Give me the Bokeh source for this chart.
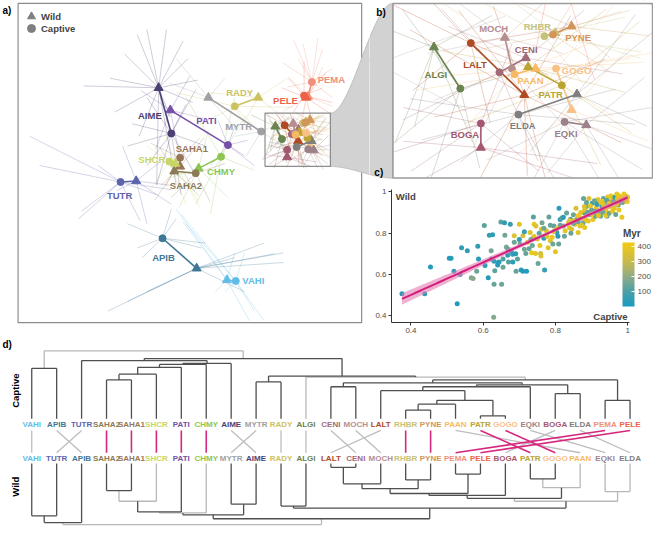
import numpy as np
from bokeh.plotting import figure
from bokeh.models import (ColumnDataSource, Range1d, Legend, LegendItem, ColorBar,
                          LinearColorMapper, FixedTicker, Label, CustomJSTickFormatter)
from bokeh.layouts import row, column
from bokeh.transform import transform
from bokeh.core.properties import value
from bokeh.embed import file_html
from bokeh.resources import INLINE

FONT = "Liberation Sans"

# ---------------- data ----------------
SPECIES = ["VAHI", "APIB", "TUTR", "SAHA2", "SAHA1", "SHCR", "PATI", "CHMY", "AIME", "MYTR",
           "RADY", "ALGI", "CENI", "MOCH", "LALT", "RHBR", "PYNE", "PAAN", "PATR", "GOGO",
           "EQKI", "BOGA", "ELDA", "PEMA", "PELE"]
COLORS = ["#62BDE6", "#3E7896", "#5E63AE", "#8A7B55", "#977656", "#C8D665", "#7450A8", "#8CC653",
          "#4D3F73", "#A0A0A4", "#CDC262", "#6A8450", "#A16A78", "#B58E8E", "#B04A22", "#C4C27A",
          "#D39558", "#F7BA62", "#B9A434", "#F8C185", "#9C8189", "#A3586F", "#7E7E7E", "#EF907A",
          "#EC634A"]
# ordination centroids (Dim1, Dim2 in plot units)
CAP_X = [241, 166, 123, 200, 184, 173, 233, 226, 175, 267, 240, 288.4, 298.5, 301.7, 291.1,
         310.1, 312.3, 302.4, 314.6, 313.1, 315.3, 293.7, 303.4, 319, 311]
CAP_Y = [289, 245, 187, 178, 162, 166, 149, 161, 137, 135, 109, 142.8, 137.7, 136.5, 128.5,
         126.3, 125.8, 138.3, 141.8, 136.5, 153.3, 153.8, 151.0, 84, 98]
WILD_X = [232, 201, 139, 178, 184, 179, 174, 203, 162, 213, 264, 281.6, 305.3, 299.9, 304.9,
          312.9, 317.1, 307.8, 305.9, 317.1, 320.9, 293.7, 318.5, 315, 313]
WILD_Y = [288, 276, 186, 176, 171, 168, 113, 173, 90, 100, 100, 129.8, 133.2, 126.8, 144.8,
          125.3, 123.2, 136.5, 136.0, 149.5, 154.3, 161.4, 144.6, 99, 100]

LAB_A_NAMES = ["VAHI", "APIB", "TUTR", "SAHA2", "SAHA1", "SHCR", "PATI", "CHMY", "AIME", "MYTR",
               "RADY", "PEMA", "PELE"]
LAB_A_X = [259, 167, 122, 190, 196, 155, 211, 226, 153, 244, 245, 339, 292]
LAB_A_Y = [289, 265, 201, 191, 153, 164, 124, 176, 118, 130, 95, 81, 103]

LAB_B_NAMES = ["ALGI", "LALT", "MOCH", "CENI", "RHBR", "PYNE", "PAAN", "PATR", "GOGO", "EQKI",
               "ELDA", "BOGA"]
LAB_B_X = [282.1, 292.2, 297.0, 305.4, 308.3, 318.8, 306.5, 311.7, 318.4, 315.7, 304.5, 289.6]
LAB_B_Y = [138.5, 135.2, 124.0, 130.4, 123.2, 126.8, 140.4, 144.6, 137.0, 156.9, 154.3, 157.3]

# individual samples (offsets from their centroid)
SPOKES_C = {
    "AIME": [(-25, -37), (25, -45), (-15, 53), (25, 43), (-45, 13), (10, 63), (35, 13), (-25, 33), (-40, -10), (15, -30)],
    "PATI": [(17, 11), (7, -19), (27, 21), (-18, 21), (20, -5), (-10, -25)],
    "TUTR": [(-93, -47), (-83, -17), (-43, 38), (37, 13), (52, 8), (-23, -17), (-40, 30), (20, 40)],
    "APIB": [(-36, -15), (-26, 10), (14, -20), (9, -30), (44, 5), (-21, 20), (40, 10)],
    "VAHI": [(-56, -69), (-51, -59), (29, 41), (19, 31), (9, -29), (-11, 11)],
    "SAHA1": [(-15, 30), (20, -20), (-30, -15)],
    "SAHA2": [(15, 30), (-25, 25), (30, -10)],
    "SHCR": [(17, 44), (-23, -16), (30, 40), (-20, 30)],
    "CHMY": [(14, -61), (-36, -61), (-26, 49), (-11, 59), (34, 14), (24, -41)],
    "MYTR": [(-27, 5), (23, 15), (33, -15), (-15, 25)],
    "RADY": [(-60, -14), (60, 1), (15, 26), (-40, 21), (30, 31)],
    "PEMA": [(-19, -44), (-9, -39), (11, -34), (21, -14), (-14, -24), (21, 16), (-25, 5), (6, -45), (-30, -20)],
    "PELE": [(-16, -18), (19, -8), (29, 7), (-11, 17), (0, -35)],
    "ALGI": [(-8, 30), (-20, 20), (15, -5), (-15, -25), (5, 25)],
    "LALT": [(-20, -12), (-10, -13), (25, -5), (-15, 15), (5, 25), (20, 10)],
    "MOCH": [(-20, 10), (15, 20), (-10, 25)],
    "CENI": [(-25, 15), (-15, -20), (10, 28)],
    "RHBR": [(20, -8), (-15, -10), (10, 15), (25, 5)],
    "PYNE": [(-20, 5), (15, 12), (5, -10)],
    "PAAN": [(-25, 5), (20, -10), (30, -5), (-15, 20)],
    "PATR": [(20, -20), (18, 15), (-25, 12), (10, 25)],
    "GOGO": [(25, -5), (15, -20), (-10, 20)],
    "EQKI": [(-20, 12), (25, -5), (10, 20), (-8, 18), (20, 15)],
    "BOGA": [(-20, -5), (8, -25), (-18, 15), (15, 15), (-25, 10)],
    "ELDA": [(-25, 8), (25, -8), (-15, 15), (10, 22), (-28, -5), (30, 3)],
}
SPOKES_W = {
    "AIME": [(-22, -55), (-12, -60), (8, -60), (25, -48), (-35, -35), (30, -30), (-77, -2), (40, -8), (-45, 25), (-20, 50), (-2, 100), (18, 100), (12, 30), (-50, -10), (35, 15)],
    "PATI": [(-30, -20), (20, -35), (40, 10), (-15, 40), (10, 50)],
    "TUTR": [(-14, -36), (36, 24), (11, 44), (-20, 10), (25, -20), (40, 5)],
    "APIB": [(89, -16), (69, -26), (-91, 44), (-71, 34), (39, -11), (49, 24), (89, -6), (-51, 24), (80, -15)],
    "VAHI": [(-52, -73), (23, 42), (8, -28), (-12, 12), (-45, -60)],
    "SAHA1": [(15, 25), (-20, 20), (25, -30)],
    "SAHA2": [(-20, 30), (25, 25), (-15, -25)],
    "SHCR": [(25, 45), (-10, -30)],
    "CHMY": [(-20, 40), (30, 30), (10, -40), (-30, 10)],
    "MYTR": [(-33, -40), (27, 30), (17, -20), (-40, -15)],
    "RADY": [(-50, -5), (30, -20), (25, 20), (-20, 35)],
    "PEMA": [(-20, -20), (25, 10), (15, -30), (-25, 15)],
    "PELE": [(-25, -10), (20, -25), (30, 20), (-5, 30), (10, 40)],
    "ALGI": [(-25, -12), (-5, 25), (10, 30), (15, -10), (-10, 30)],
    "LALT": [(-29.5, -20.5), (-16.9, -26.6), (0.8, 25.4), (5.8, 28.1), (-11.8, 27.2), (20.9, -11.3), (-23.2, 7), (12, -25), (-8, -28), (25, 15)],
    "MOCH": [(-12, -11), (10, -11), (15, 5), (-20, 5)],
    "CENI": [(15, -15), (25, 5), (-20, -10)],
    "RHBR": [(18, -5), (-10, -9), (22, 8)],
    "PYNE": [(15, -5), (10, 10), (-15, -8), (20, 3)],
    "PAAN": [(28, -2), (-30, 3), (20, 15)],
    "PATR": [(20, -18), (-22, -5), (25, 8)],
    "GOGO": [(15, -20), (-15, 15), (20, 10)],
    "EQKI": [(15, -15), (18, 8), (-10, 15), (10, 20)],
    "BOGA": [(-20, -2), (25, 10), (-15, 10), (30, 5)],
    "ELDA": [(20, -20), (15, -25), (-12, 18), (18, 10)],
}

# panel c: similarity captive vs wild, coloured by divergence time (Myr)
C_X = [0.375, 0.438, 0.454, 0.506, 0.511, 0.519, 0.528, 0.536, 0.540, 0.556,
       0.567, 0.572, 0.585, 0.582, 0.603, 0.617, 0.626, 0.614, 0.622, 0.623,
       0.630, 0.629, 0.630, 0.632, 0.640, 0.644, 0.649, 0.651, 0.655, 0.659,
       0.664, 0.668, 0.670, 0.675, 0.678, 0.682, 0.686, 0.686, 0.691, 0.695,
       0.700, 0.702, 0.705, 0.710, 0.720, 0.710, 0.714, 0.718, 0.723, 0.727,
       0.730, 0.734, 0.736, 0.739, 0.741, 0.746, 0.745, 0.750, 0.752, 0.757,
       0.759, 0.761, 0.763, 0.768, 0.770, 0.775, 0.782, 0.786, 0.791, 0.793,
       0.796, 0.800, 0.804, 0.809, 0.810, 0.813, 0.818, 0.822, 0.827, 0.831,
       0.836, 0.839, 0.842, 0.845, 0.850, 0.854, 0.857, 0.859, 0.863, 0.868,
       0.872, 0.877, 0.878, 0.881, 0.884, 0.886, 0.891, 0.893, 0.895, 0.900,
       0.902, 0.904, 0.907, 0.911, 0.913, 0.918, 0.920, 0.922, 0.925, 0.929,
       0.933, 0.935, 0.938, 0.940, 0.943, 0.945, 0.947, 0.951, 0.954, 0.956,
       0.958, 0.963, 0.965, 0.967, 0.972, 0.974, 0.977, 0.981, 0.984, 0.988,
       0.990, 0.995, 0.997, 1.000, 0.807, 0.825, 0.843, 0.863, 0.930, 0.915,
       0.870, 0.850, 0.880, 0.990, 0.970, 0.660, 0.690, 0.740, 0.780, 0.760,
       0.886, 0.897, 0.908, 0.916, 0.926, 0.933, 0.942, 0.949, 0.961, 0.970,
       0.979, 0.985, 0.992, 0.999, 0.881, 0.890, 0.901, 0.910, 0.919, 0.931,
       0.940, 0.949, 0.958, 0.967, 0.976, 0.863, 0.872, 0.881, 0.850, 0.839,
       0.822, 0.813, 0.804, 0.795, 0.786, 0.777, 0.768, 0.755, 0.741, 0.732,
       0.642, 0.655, 0.669, 0.682, 0.605, 0.587, 0.700, 0.714]
C_Y = [0.507, 0.507, 0.636, 0.678, 0.678, 0.615, 0.458, 0.600, 0.730, 0.715,
       0.584, 0.580, 0.737, 0.615, 0.838, 0.790, 0.792, 0.584, 0.715, 0.675,
       0.664, 0.392, 0.553, 0.618, 0.646, 0.661, 0.854, 0.553, 0.675, 0.851,
       0.733, 0.693, 0.661, 0.843, 0.710, 0.661, 0.788, 0.756, 0.615, 0.675,
       0.843, 0.748, 0.622, 0.615, 0.615, 0.788, 0.807, 0.702, 0.756, 0.725,
       0.804, 0.705, 0.740, 0.879, 0.843, 0.835, 0.702, 0.772, 0.653, 0.740,
       0.702, 0.819, 0.851, 0.775, 0.622, 0.812, 0.879, 0.764, 0.780, 0.748,
       0.835, 0.710, 0.804, 0.748, 0.921, 0.866, 0.874, 0.835, 0.812, 0.898,
       0.851, 0.827, 0.868, 0.819, 0.890, 0.843, 0.921, 0.866, 0.885, 0.835,
       0.874, 0.851, 0.968, 0.898, 0.866, 0.929, 0.859, 0.968, 0.890, 0.913,
       0.945, 0.866, 0.898, 0.882, 0.921, 0.963, 0.905, 0.945, 0.882, 0.929,
       0.968, 0.898, 0.945, 0.913, 0.882, 0.976, 0.953, 0.929, 0.980, 0.945,
       0.963, 0.921, 0.976, 0.953, 0.968, 0.937, 0.980, 0.960, 0.877, 0.973,
       0.953, 0.980, 0.963, 0.976, 0.785, 0.785, 0.800, 0.804, 0.955, 0.940,
       0.900, 0.860, 0.930, 0.990, 0.990, 0.790, 0.700, 0.780, 0.730, 0.690,
       0.949, 0.933, 0.957, 0.941, 0.949, 0.938, 0.960, 0.944, 0.954, 0.941,
       0.965, 0.949, 0.965, 0.954, 0.913, 0.902, 0.891, 0.907, 0.886, 0.902,
       0.886, 0.897, 0.907, 0.891, 0.913, 0.855, 0.839, 0.828, 0.847, 0.860,
       0.878, 0.839, 0.824, 0.808, 0.839, 0.784, 0.824, 0.800, 0.784, 0.769,
       0.659, 0.635, 0.722, 0.698, 0.643, 0.675, 0.769, 0.722]
C_MYR = [22, 30, 18, 35, 28, 40, 15, 95, 45, 38,
         170, 190, 42, 150, 120, 55, 48, 25, 160, 30,
         52, 180, 140, 130, 20, 60, 125, 145, 110, 50,
         175, 35, 115, 58, 44, 40, 360, 150, 135, 120,
         380, 165, 30, 25, 18, 340, 60, 140, 390, 130,
         370, 400, 155, 120, 395, 360, 380, 350, 145, 405,
         330, 385, 160, 40, 55, 375, 135, 365, 395, 150,
         125, 380, 45, 140, 30, 50, 130, 170, 390, 145,
         370, 400, 120, 355, 150, 385, 345, 135, 410, 375,
         395, 160, 140, 125, 380, 155, 400, 365, 130, 145,
         50, 390, 165, 140, 405, 385, 120, 375, 150, 45,
         135, 395, 160, 410, 140, 390, 125, 380, 400, 150,
         370, 395, 40, 385, 405, 145, 390, 375, 400, 410,
         380, 395, 405, 390, 35, 150, 140, 380, 395, 150,
         385, 370, 360, 400, 395, 160, 30, 150, 375, 365,
         140, 385, 150, 45, 390, 380, 135, 395, 145, 400,
         385, 150, 395, 405, 375, 140, 390, 130, 380, 145,
         400, 150, 385, 140, 395, 135, 380, 390, 150, 370,
         40, 145, 385, 390, 140, 375, 150, 135, 380, 145,
         35, 150, 140, 40, 30, 25, 45, 160]

# panel d: dendrograms, nodes are (left, right, height[, drawn light])
CAPTIVE_TREE = (("VAHI", "APIB", 52),
                (("TUTR", ((((("SAHA2", "SAHA1", 40), "SHCR", 46), "PATI", 53), "CHMY", 56), "AIME", 57), 60),
                 (("MYTR", "RADY", 38),
                  ("ALGI",
                   ((("CENI", "MOCH", 33),
                     ((("LALT", ((("RHBR", "PYNE", 9), "PAAN", 15), ("PATR", "GOGO", 3), 19), 29), "EQKI", 33),
                      ("BOGA", "ELDA", 26), 35), 37),
                    ("PEMA", "PELE", 19), 40), 43, True), 44), 62),
                70, True)
W_SMALL = (((("LALT", "CENI", 4), "MOCH", 21), ("RHBR", "PYNE", 17), 26), ("PEMA", "PELE", 11), 31)
W_RIGHT = (((W_SMALL, "BOGA", 33), (("PATR", "GOGO", 16), "PAAN", 25, True), 36),
           ("EQKI", "ELDA", 29, True), 39, True)
W_LEFT = ((((("SAHA2", "SAHA1", 28), "SHCR", 39, True), "PATI", 50), "CHMY", 51, True),
          ("MYTR", "AIME", 42), 53)
WILD_TREE = ((("VAHI", "TUTR", 54), "APIB", 61),
             (W_LEFT, (("RADY", "ALGI", 44), W_RIGHT, 46), 57),
             63, True)
LINK_HIGHLIGHT = ["SAHA2", "SAHA1", "SHCR", "PATI", "CHMY", "RHBR", "PYNE", "PEMA", "PELE", "PATR", "GOGO"]

# ---------------- layout constants ----------------
SX = 653 / 669
SY = 526 / 542
WA, HTOP, WR, HB, HC, HD = 369, 338, 284, 180, 158, 188
ZB = (271, 338, 116, 171)          # zoom window in panel a units
BREF = (402, 668, 3, 183)          # panel b box on the sheet
ABOX = (18, 370, 3, 332)


def ref_to_b(xr, yr):
    xr = np.asarray(xr, dtype=float)
    yr = np.asarray(yr, dtype=float)
    ax = ZB[0] + (xr - BREF[0]) * (ZB[1] - ZB[0]) / (BREF[1] - BREF[0])
    ay = ZB[2] + (yr - BREF[2]) * (ZB[3] - ZB[2]) / (BREF[3] - BREF[2])
    return ax, ay


def base_fig(w, h, xr, yr, **kw):
    p = figure(width=w, height=h, x_range=xr, y_range=yr, output_backend="svg",
               toolbar_location=None, x_axis_location=None, y_axis_location=None,
               outline_line_color=None, min_border_left=0, min_border_right=0,
               min_border_top=0, min_border_bottom=0, **kw)
    p.grid.visible = False
    return p


col_of = dict(zip(SPECIES, COLORS))

# spokes source
sx0, sy0, sx1, sy1, scol = [], [], [], [], []
for i, sp in enumerate(SPECIES):
    for (dx, dy) in SPOKES_C.get(sp, []):
        sx0.append(CAP_X[i]); sy0.append(CAP_Y[i]); sx1.append(CAP_X[i] + dx); sy1.append(CAP_Y[i] + dy); scol.append(COLORS[i])
    for (dx, dy) in SPOKES_W.get(sp, []):
        sx0.append(WILD_X[i]); sy0.append(WILD_Y[i]); sx1.append(WILD_X[i] + dx); sy1.append(WILD_Y[i] + dy); scol.append(COLORS[i])
spoke_src = ColumnDataSource(dict(x0=sx0, y0=sy0, x1=sx1, y1=sy1, c=scol))
cent_src = ColumnDataSource(dict(cx=CAP_X, cy=CAP_Y, wx=WILD_X, wy=WILD_Y, c=COLORS, sp=SPECIES))

# funnel shape (sheet coordinates)
t = np.linspace(0, 1, 80)
s = t * t * (3 - 2 * t)
fx = ZB[1] + (BREF[0] - ZB[1]) * t
ftop = ZB[2] + (BREF[2] - ZB[2]) * s
fbot = ZB[3] + (BREF[3] - ZB[3]) * s
FUN_X = np.concatenate([fx, fx[::-1]])
FUN_Y = np.concatenate([ftop, fbot[::-1]])


def draw_ordination(p, msize):
    p.segment("x0", "y0", "x1", "y1", source=spoke_src, line_color="c", line_alpha=0.3, line_width=0.9)
    p.segment("cx", "cy", "wx", "wy", source=cent_src, line_color="c", line_width=1.6)
    p.scatter("wx", "wy", source=cent_src, marker="triangle", size=msize + 2, fill_color="c", line_color="c")
    p.scatter("cx", "cy", source=cent_src, marker="circle", size=msize, fill_color="c", line_color="c")


# ---------------- panel a ----------------
xa1 = WA / SX
ya1 = HTOP / SY
pa = base_fig(WA, HTOP, Range1d(0, xa1), Range1d(ya1, 0))
draw_ordination(pa, 7)
pa.quad(left=[0, 0, 0, ABOX[1]], right=[ABOX[0], xa1, xa1, xa1],
        top=[0, 0, ABOX[3], 0], bottom=[ya1, ABOX[2], ya1, ya1],
        fill_color="white", line_color=None)
lab_a = ColumnDataSource(dict(x=LAB_A_X, y=LAB_A_Y, t=LAB_A_NAMES, c=[col_of[n] for n in LAB_A_NAMES]))
pa.text("x", "y", "t", source=lab_a, text_color="c", text_font=value(FONT), text_font_style="bold",
        text_font_size="9.5px", text_align="center", text_baseline="middle")
pa.quad(left=[ABOX[0]], right=[ABOX[1]], top=[ABOX[2]], bottom=[ABOX[3]],
        fill_color=None, line_color="#8C8C8C", line_width=1.2)
pa.patch(FUN_X, FUN_Y, fill_color="#D2D2D2", line_color="#BDBDBD", line_width=1)
pa.quad(left=[ZB[0]], right=[ZB[1]], top=[ZB[2]], bottom=[ZB[3]],
        fill_color=None, line_color="#8C8C8C", line_width=1.2)
pa.text([2], [10], ["a)"], text_font=value(FONT), text_font_style="bold", text_font_size="10px",
        text_baseline="middle", text_color="black")
# legend (hidden carrier glyphs, grey keys)
r_w = pa.scatter(x=WILD_X[:1], y=WILD_Y[:1], marker="triangle", size=9, color="#7F7F7F", visible=False)
r_c = pa.scatter(x=CAP_X[:1], y=CAP_Y[:1], marker="circle", size=7, color="#7F7F7F", visible=False)
for item, loc in ((LegendItem(label="Wild", renderers=[r_w]), (21, 312)),
                  (LegendItem(label="Captive", renderers=[r_c]), (21, 300))):
    pa.add_layout(Legend(items=[item], location=loc, label_text_font=FONT, label_text_font_style="bold",
                         label_text_font_size="9.5px", glyph_width=20, glyph_height=20, label_height=20,
                         spacing=0, padding=0, margin=0, background_fill_alpha=0, border_line_alpha=0,
                         label_standoff=0, inactive_fill_alpha=0))

# ---------------- panel b ----------------
bx0, _ = ref_to_b(xa1, 0)
bx1, _ = ref_to_b(653 / SX, 0)
_, by0 = ref_to_b(0, 0)
_, by1 = ref_to_b(0, HB / SY)
bx0, bx1, by0, by1 = float(bx0), float(bx1), float(by0), float(by1)
pb = base_fig(WR, HB, Range1d(bx0, bx1), Range1d(by1, by0))
draw_ordination(pb, 7)
lab_b = ColumnDataSource(dict(x=LAB_B_X, y=LAB_B_Y, t=LAB_B_NAMES, c=[col_of[n] for n in LAB_B_NAMES]))
pb.text("x", "y", "t", source=lab_b, text_color="c", text_font=value(FONT), text_font_style="bold",
        text_font_size="9.5px", text_align="center", text_baseline="middle")
pb.quad(left=[bx0, bx0, bx0, ZB[1]], right=[ZB[0], bx1, bx1, bx1],
        top=[by0, by0, ZB[3], by0], bottom=[by1, ZB[2], by1, by1],
        fill_color="white", line_color=None)
fbx, fby = ref_to_b(FUN_X, FUN_Y)
pb.patch(fbx, fby, fill_color="#D2D2D2", line_color="#BDBDBD", line_width=1)
pb.quad(left=[ZB[0]], right=[ZB[1]], top=[ZB[2]], bottom=[ZB[3]],
        fill_color=None, line_color="#9A9A9A", line_width=1.5)
tbx, tby = ref_to_b([385, 383], [12, 177])
pb.text(list(tbx), list(tby), ["b)", "c)"], text_font=value(FONT), text_font_style="bold",
        text_font_size="10px", text_baseline="middle", text_color="black")

# ---------------- panel c ----------------
CX0, CX1, CY0, CY1 = 0.346, 1.0717, 0.367, 1.012
pc = figure(width=WR, height=HC, x_range=Range1d(CX0, CX1), y_range=Range1d(CY0, CY1),
            output_backend="svg", toolbar_location=None, outline_line_color=None,
            min_border_left=22, min_border_right=0, min_border_top=9, min_border_bottom=16)
pc.grid.visible = False
for ax in (pc.xaxis[0], pc.yaxis[0]):
    ax.ticker = FixedTicker(ticks=[0.4, 0.6, 0.8, 1.0])
    ax.formatter = CustomJSTickFormatter(code="return tick.toString()")
    ax.axis_line_color = "#333333"
    ax.major_tick_line_color = "#333333"
    ax.minor_tick_line_color = None
    ax.major_tick_out = 3
    ax.major_tick_in = 0
    ax.major_label_text_font = FONT
    ax.major_label_text_font_size = "8px"
    ax.major_label_text_color = "#4D4D4D"
    ax.major_label_standoff = 2
pc.xaxis[0].bounds = (CX0, 1.005)

stops_v = [0, 100, 200, 300, 430]
stops_c = ["#1A9AC2", "#4AA0A6", "#8FAB87", "#C6BA4E", "#F2CB10"]
rgb = np.array([[int(h[k:k + 2], 16) for k in (1, 3, 5)] for h in stops_c], dtype=float)
palette = []
for k in range(256):
    v = 430 * k / 255
    r_ = np.interp(v, stops_v, rgb[:, 0]); g_ = np.interp(v, stops_v, rgb[:, 1]); b_ = np.interp(v, stops_v, rgb[:, 2])
    palette.append("#%02x%02x%02x" % (int(round(r_)), int(round(g_)), int(round(b_))))
mapper = LinearColorMapper(palette=palette, low=0, high=430)

xa_ = np.array(C_X); ya_ = np.array(C_Y)
b1, b0 = np.polyfit(xa_, ya_, 1)
n = len(xa_)
resid = ya_ - (b0 + b1 * xa_)
s_err = np.sqrt(np.sum(resid ** 2) / (n - 2))
xs = np.linspace(xa_.min(), xa_.max(), 100)
yhat = b0 + b1 * xs
se = s_err * np.sqrt(1 / n + (xs - xa_.mean()) ** 2 / np.sum((xa_ - xa_.mean()) ** 2))
pc.scatter("x", "y", source=ColumnDataSource(dict(x=C_X, y=C_Y, myr=C_MYR)), size=5,
           fill_color=transform("myr", mapper), line_color=None)
pc.varea(x=xs, y1=yhat - 1.976 * se, y2=yhat + 1.976 * se, fill_color="#E27DB4", fill_alpha=0.6)
pc.line(xs, yhat, line_color="#D3207D", line_width=2)
pc.add_layout(Label(x=0.358, y=0.98, text="Wild", text_font=FONT, text_font_style="bold",
                    text_font_size="9.5px", text_baseline="middle"))
pc.add_layout(Label(x=1.0, y=0.395, text="Captive", text_font=FONT, text_font_style="bold",
                    text_font_size="9.5px", text_baseline="middle", text_align="right"))
pc.add_layout(Label(x=0.987, y=0.80, text="Myr", text_font=FONT, text_font_style="bold",
                    text_font_size="10px", text_baseline="middle"))
cb = ColorBar(color_mapper=mapper, ticker=FixedTicker(ticks=[100, 200, 300, 400]), location=(231, 16),
              width=12, height=64, padding=0,
              major_label_text_font=FONT, major_label_text_font_size="8px",
              major_label_text_color="#4D4D4D", major_tick_line_color="white", major_tick_in=3,
              major_tick_out=0, bar_line_color=None, background_fill_alpha=0, border_line_color=None,
              label_standoff=3, orientation="vertical")
pc.add_layout(cb)

# ---------------- panel d ----------------
LEAF0, LEAFW = 32, 25.54
pd_ = base_fig(653, HD, Range1d(-LEAF0 / LEAFW, (669 - LEAF0) / LEAFW), Range1d(542, 542 - HD / SY))

DARK, LIGHT = "#4F4F4F", "#B8B8B8"


def dendro(node, base, sign, segs, order):
    if isinstance(node, str):
        order.append(node)
        return len(order) - 1, 0.0
    left, right, h = node[0], node[1], node[2]
    colr = LIGHT if (len(node) > 3 and node[3]) else DARK
    xl, hl = dendro(left, base, sign, segs, order)
    xr, hr = dendro(right, base, sign, segs, order)
    segs.append((xl, base + sign * hl, xl, base + sign * h, colr))
    segs.append((xr, base + sign * hr, xr, base + sign * h, colr))
    segs.append((xl, base + sign * h, xr, base + sign * h, colr))
    return (xl + xr) / 2, h


segs, top_order, bot_order = [], [], []
dendro(CAPTIVE_TREE, 431, -1, segs, top_order)
dendro(WILD_TREE, 477, 1, segs, bot_order)
segs.sort(key=lambda s_: s_[4] == DARK)
seg_src = ColumnDataSource(dict(x0=[s_[0] for s_ in segs], y0=[s_[1] for s_ in segs],
                                x1=[s_[2] for s_ in segs], y1=[s_[3] for s_ in segs],
                                c=[s_[4] for s_ in segs]))
pd_.segment("x0", "y0", "x1", "y1", source=seg_src, line_color="c", line_width=1.3)

lx0, lx1, lc, lw = [], [], [], []
for sp in sorted(SPECIES, key=lambda z: z in LINK_HIGHLIGHT):
    lx0.append(top_order.index(sp)); lx1.append(bot_order.index(sp))
    hl = sp in LINK_HIGHLIGHT
    lc.append("#D6287F" if hl else "#BDBDBD"); lw.append(1.6 if hl else 1.3)
pd_.segment(x0="x0", y0="y0", x1="x1", y1="y1", line_color="c", line_width="w",
            source=ColumnDataSource(dict(x0=lx0, y0=[443] * 25, x1=lx1, y1=[466] * 25, c=lc, w=lw)))
pd_.text(list(range(25)), [437] * 25, top_order, text_color=[col_of[z] for z in top_order],
         text_font=value(FONT), text_font_style="bold", text_font_size="8px",
         text_align="center", text_baseline="middle")
pd_.text(list(range(25)), [472] * 25, bot_order, text_color=[col_of[z] for z in bot_order],
         text_font=value(FONT), text_font_style="bold", text_font_size="8px",
         text_align="center", text_baseline="middle")
gx = (15 - LEAF0) / LEAFW
pd_.text([gx, gx], [402, 501], ["Captive", "Wild"], angle=np.pi / 2, text_font=value(FONT),
         text_font_style="bold", text_font_size="9.5px", text_align="center", text_baseline="middle",
         text_color="black")
pd_.text([(2 - LEAF0) / LEAFW], [354], ["d)"], text_font=value(FONT), text_font_style="bold",
         text_font_size="10px", text_baseline="middle", text_color="black")

right_col = column(column(pb), column(pc), spacing=0)
layout = column(row(pa, right_col, spacing=0), pd_, spacing=0)
open("out.html", "w").write(file_html(layout, INLINE, "figure"))
